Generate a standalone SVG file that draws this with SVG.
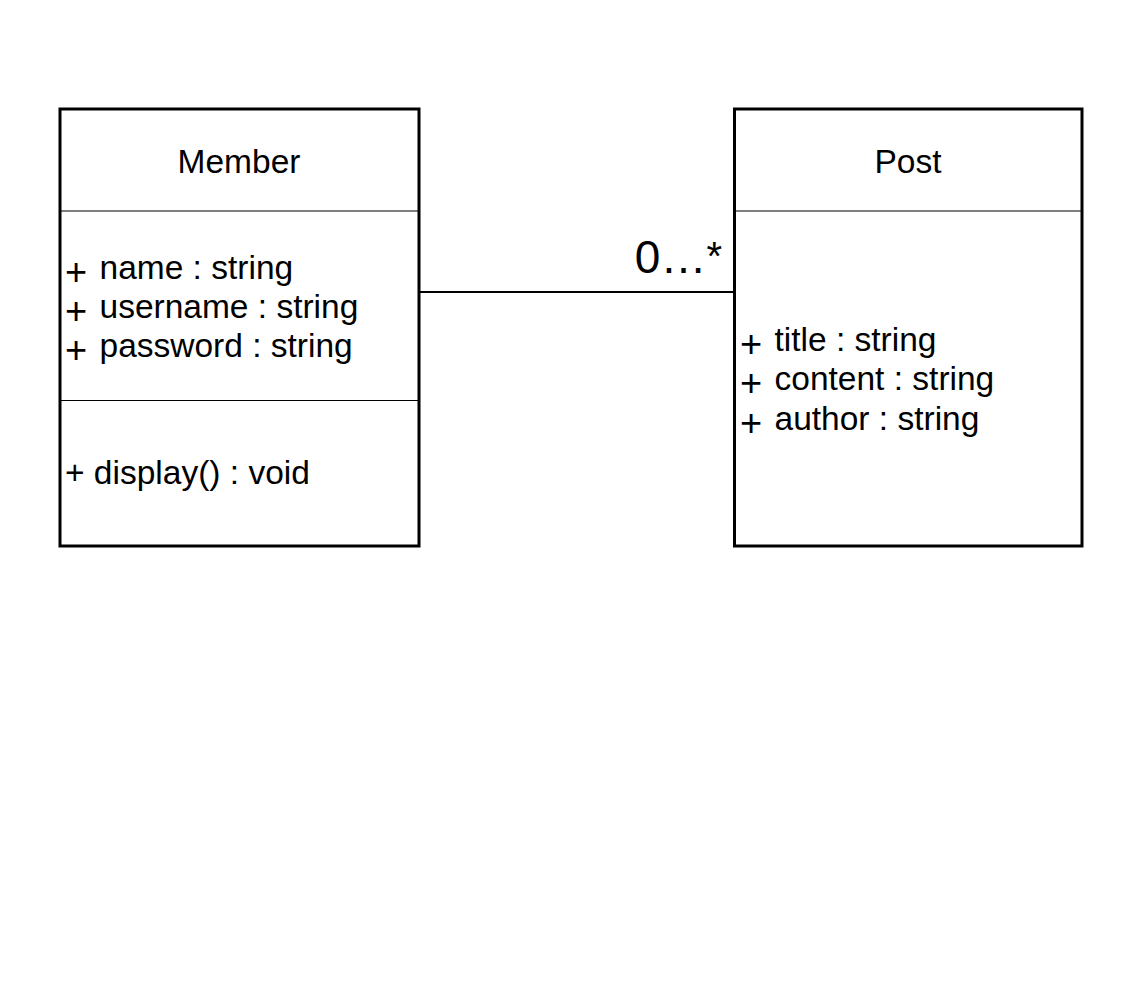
<svg xmlns="http://www.w3.org/2000/svg" width="1132" height="988" viewBox="0 0 1132 988">
<style>
.box{fill:#fff;stroke:#000;stroke-width:3}
.sep{stroke:#000;stroke-width:1.2}
.t{font-family:"Liberation Sans",Arial,sans-serif;font-size:33.5px;fill:#000}
.p{font-size:38px}
.conn{stroke:#000;stroke-width:2;fill:none}
</style>
<rect width="1132" height="988" fill="#fff"/>
<g id="connectors">
<line class="conn" x1="420" y1="292" x2="734" y2="292"/>
<text class="t" x="722" y="273" text-anchor="end" style="font-size:46px">0…<tspan style="font-size:40px" dy="-3">*</tspan></text>
</g>
<g id="member">
<rect class="box" x="60" y="109" width="359" height="437"/>
<line class="sep" x1="60" y1="211" x2="419" y2="211"/>
<line class="sep" x1="60" y1="400.5" x2="419" y2="400.5"/>
<text class="t" x="239" y="173" text-anchor="middle">Member</text>
<text class="t" x="65" y="279"><tspan class="p" dy="6">+</tspan><tspan dy="-6" dx="3"> name : string</tspan></text>
<text class="t" x="65" y="318"><tspan class="p" dy="6">+</tspan><tspan dy="-6" dx="3"> username : string</tspan></text>
<text class="t" x="65" y="357"><tspan class="p" dy="6">+</tspan><tspan dy="-6" dx="3"> password : string</tspan></text>
<text class="t" x="65" y="484">+ display() : void</text>
</g>
<g id="post">
<rect class="box" x="734.5" y="109" width="347.5" height="437"/>
<line class="sep" x1="734.5" y1="211" x2="1082" y2="211"/>
<text class="t" x="908" y="173" text-anchor="middle">Post</text>
<text class="t" x="740" y="351"><tspan class="p" dy="6">+</tspan><tspan dy="-6" dx="3"> title : string</tspan></text>
<text class="t" x="740" y="390"><tspan class="p" dy="6">+</tspan><tspan dy="-6" dx="3"> content : string</tspan></text>
<text class="t" x="740" y="430"><tspan class="p" dy="6">+</tspan><tspan dy="-6" dx="3"> author : string</tspan></text>
</g>
</svg>
